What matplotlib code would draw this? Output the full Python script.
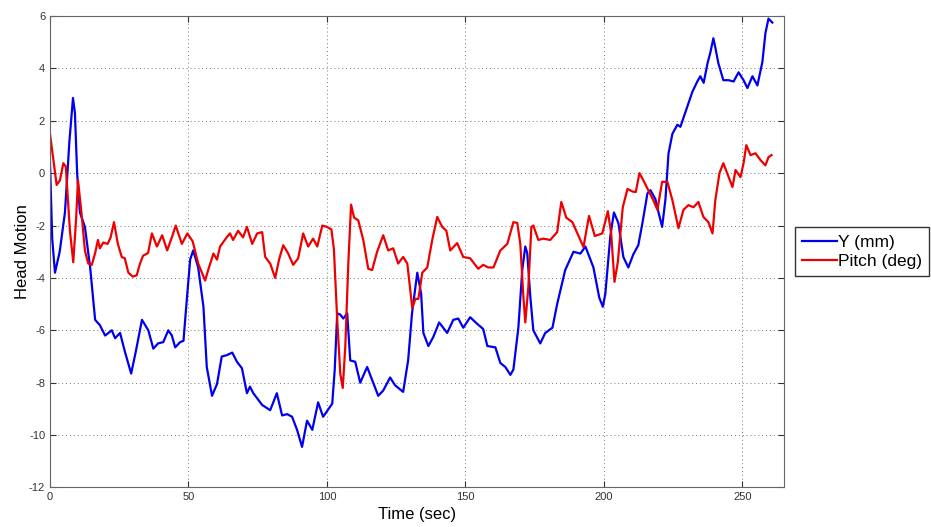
import numpy as np
import matplotlib
matplotlib.use('Agg')
import matplotlib.pyplot as plt

plt.rcParams['font.family'] = ['Liberation Sans', 'DejaVu Sans']
plt.rcParams['axes.unicode_minus'] = False

# Y (mm) trace
t_y = [0, 0.8, 1.8, 3.5, 5.4, 7, 8.3, 9, 9.8, 10.8, 12.6, 14.5, 16.3, 18, 19.9,
       22.3, 23.5, 25.3, 27, 29.3, 31, 33.2, 35.5, 37.3, 39, 40.9, 42.7, 44,
       45.2, 47, 48.2, 49.1, 50.6, 51.7, 53.5, 55.4, 56.6, 58.5, 60.3, 62, 63.8,
       65.8, 67.5, 69.3, 71.1, 72.2, 73.4, 76.6, 79.5, 81.9, 83.8, 85.6, 87.4,
       89.2, 91, 92.8, 94.7, 96.8, 98.6, 101.9, 102.8, 103.7, 104.8, 105.9,
       107.3, 108.4, 110.2, 112, 114.5, 116.3, 118.5, 120.3, 122.8, 124.6,
       127.5, 129.3, 130.7, 132.6, 134, 134.8, 136.6, 138.4, 140.5, 143.4,
       145.6, 147.4, 149.2, 151.7, 154.2, 156.4, 157.9, 160.8, 162.6, 164.4,
       166.2, 167.3, 169.1, 170.5, 171.6, 172.3, 173.4, 174.5, 177, 178.8,
       181.4, 183.1, 186, 189, 191.5, 193.3, 196.2, 198.3, 199.6, 200.5, 202.3,
       203.6, 205.2, 207, 208.8, 210.6, 212.4, 213.9, 215.7, 216.8, 218.6,
       219.7, 221, 222.2, 223.3, 224.7, 226.5, 227.6, 230.1, 231.9, 233.7,
       234.8, 236, 237.4, 238.4, 239.5, 240.2, 241.3, 243.1, 245, 246.8, 248.6,
       250.4, 251.8, 253.6, 255.4, 257.2, 258.3, 259.4, 260.8]
y_mm = [0.4, -2.5, -3.8, -3.0, -1.5, 1.2, 2.87, 2.3, 0, -1.5, -2.05, -3.6, -5.6,
        -5.8, -6.2, -6.0, -6.3, -6.1, -6.8, -7.65, -6.8, -5.6, -6.0, -6.7, -6.5,
        -6.45, -6.0, -6.2, -6.65, -6.45, -6.4, -5.2, -3.3, -2.95, -3.6, -5.1,
        -7.4, -8.5, -8.05, -7.0, -6.95, -6.85, -7.2, -7.45, -8.4, -8.15, -8.4,
        -8.85, -9.05, -8.4, -9.25, -9.2, -9.3, -9.8, -10.45, -9.45, -9.8, -8.75,
        -9.3, -8.8, -7.5, -5.35, -5.4, -5.55, -5.35, -7.15, -7.2, -8.0, -7.4,
        -7.9, -8.5, -8.3, -7.8, -8.1, -8.35, -7.15, -5.35, -3.8, -4.6, -6.1,
        -6.6, -6.25, -5.7, -6.1, -5.6, -5.55, -5.9, -5.5, -5.75, -5.95, -6.6,
        -6.65, -7.25, -7.4, -7.7, -7.5, -5.9, -3.7, -2.8, -3.05, -4.7, -6.0,
        -6.5, -6.1, -5.9, -5.0, -3.7, -3.0, -3.07, -2.8, -3.6, -4.75, -5.1,
        -4.6, -2.4, -1.5, -1.9, -3.2, -3.6, -3.1, -2.75, -1.9, -0.77, -0.65,
        -1.0, -1.5, -2.05, -1.0, 0.75, 1.5, 1.85, 1.77, 2.55, 3.1, 3.5, 3.7,
        3.45, 4.2, 4.6, 5.15, 4.8, 4.2, 3.55, 3.55, 3.5, 3.85, 3.55, 3.25, 3.7,
        3.35, 4.25, 5.35, 5.9, 5.75]

# Pitch (deg) trace
t_pitch = [0, 1.1, 2.4, 3.6, 4.8, 5.7, 7.2, 8.4, 9.4, 10.1, 11.4, 12.6, 13.8,
           15.1, 16.3, 17.3, 18, 19.2, 20.8, 21.9, 23.1, 24.5, 25.9, 27, 28.3,
           29.9, 31.3, 32.5, 33.6, 35.4, 36.8, 38.6, 40.5, 42.3, 44, 45.4, 47.6,
           49.6, 51.5, 53.5, 56, 57.4, 59, 60.3, 61.4, 63.8, 65, 66.1, 67.9,
           69.7, 71.1, 73, 74.8, 76.6, 77.7, 79.5, 81.3, 82.7, 84.2, 86, 87.8,
           89.6, 91.4, 93.2, 95, 96.5, 98.3, 100, 101.6, 102.5, 103.7, 104.8,
           105.7, 106.6, 107.7, 108.7, 109.8, 111.3, 113.1, 114.9, 116.3, 118.1,
           120.3, 122.1, 123.9, 125.7, 127.5, 129, 130.8, 131.9, 133, 134.4,
           136.2, 138, 139.8, 141.6, 143.1, 144.5, 147, 149.2, 151.7, 154.6,
           156.4, 158.2, 160.1, 162.6, 165.1, 167.3, 168.7, 169.8, 170.9, 171.6,
           172.7, 173.8, 174.5, 176.3, 178.1, 180.6, 183.1, 184.6, 186.4, 188.6,
           190.4, 192.6, 194.6, 196.7, 199.4, 201.4, 202.6, 203.8, 205, 206.8,
           208.5, 210.3, 211.5, 212.8, 214.2, 216, 217.8, 219.3, 221, 222.9,
           224.7, 226.9, 228.7, 230.5, 232.3, 234.1, 235.9, 237.7, 239.2, 240.2,
           241.7, 243.1, 245, 246.4, 247.5, 249.3, 250.4, 251.4, 252.9, 254.7,
           256.5, 258.3, 259.4, 260.5]
pitch_deg = [1.5, 0.6, -0.45, -0.27, 0.38, 0.25, -2.2, -3.4, -1.8, -0.27, -1.55,
             -2.95, -3.45, -3.5, -3.05, -2.55, -2.87, -2.65, -2.7, -2.45, -1.87,
             -2.7, -3.2, -3.25, -3.8, -3.95, -3.9, -3.45, -3.15, -3.05, -2.3,
             -2.8, -2.37, -2.95, -2.45, -2.0, -2.7, -2.3, -2.6, -3.45, -4.1,
             -3.6, -3.07, -3.3, -2.8, -2.45, -2.3, -2.55, -2.2, -2.45, -2.05,
             -2.7, -2.3, -2.25, -3.2, -3.45, -4.0, -3.3, -2.75, -3.07, -3.5,
             -3.25, -2.3, -2.8, -2.5, -2.8, -2.0, -2.05, -2.15, -2.9, -5.6,
             -7.65, -8.2, -6.65, -3.45, -1.2, -1.7, -1.8, -2.55, -3.65, -3.7,
             -3.0, -2.37, -2.95, -2.87, -3.45, -3.2, -3.45, -5.15, -4.8, -4.8,
             -3.8, -3.6, -2.55, -1.67, -2.05, -2.2, -2.95, -2.67, -3.2, -3.25,
             -3.65, -3.5, -3.6, -3.6, -2.95, -2.7, -1.87, -1.9, -2.7, -4.7,
             -5.7, -4.35, -2.05, -2.0, -2.55, -2.5, -2.55, -2.25, -1.1, -1.7,
             -1.87, -2.3, -2.82, -1.63, -2.4, -2.3, -1.45, -2.3, -4.15, -3.4,
             -1.3, -0.6, -0.7, -0.72, 0.0, -0.27, -0.65, -1.03, -1.4, -0.33,
             -0.33, -1.03, -2.1, -1.4, -1.22, -1.3, -1.1, -1.67, -1.87, -2.3,
             -1.03, 0.0, 0.38, -0.15, -0.53, 0.12, -0.15, 0.38, 1.07, 0.69,
             0.76, 0.5, 0.3, 0.61, 0.69]

x_ticks = [0, 50, 100, 150, 200, 250]
y_ticks = [-12, -10, -8, -6, -4, -2, 0, 2, 4, 6]

fig = plt.figure(figsize=(9.31, 5.27), dpi=100)
ax = fig.add_axes([0.0537, 0.075, 0.7884, 0.8946])

ax.plot(t_y, y_mm, color='#0000ee', lw=1.6, label='Y (mm)')
ax.plot(t_pitch, pitch_deg, color='#ee0000', lw=1.6, label='Pitch (deg)')

ax.set_xlim(0, 265)
ax.set_ylim(-12, 6)
ax.set_xticks(x_ticks)
ax.set_yticks(y_ticks)
ax.grid(True, linestyle=(0, (1, 3)), color='#777777', linewidth=0.7)
ax.tick_params(direction='in', top=True, right=True, labelsize=8,
               colors='#333333', length=4)
for s in ax.spines.values():
    s.set_color('#666666')

ax.set_xlabel('Time (sec)', fontsize=12, labelpad=3)
ax.set_ylabel('Head Motion', fontsize=12, labelpad=-1)

ax.legend(loc='center left', bbox_to_anchor=(1.015, 0.5), fontsize=12.5,
          frameon=True, fancybox=False, edgecolor='#333333', framealpha=1,
          handlelength=2.0, handletextpad=0.1, borderpad=0.4,
          labelspacing=0.25, borderaxespad=0)

fig.savefig('out.png', dpi=100)
